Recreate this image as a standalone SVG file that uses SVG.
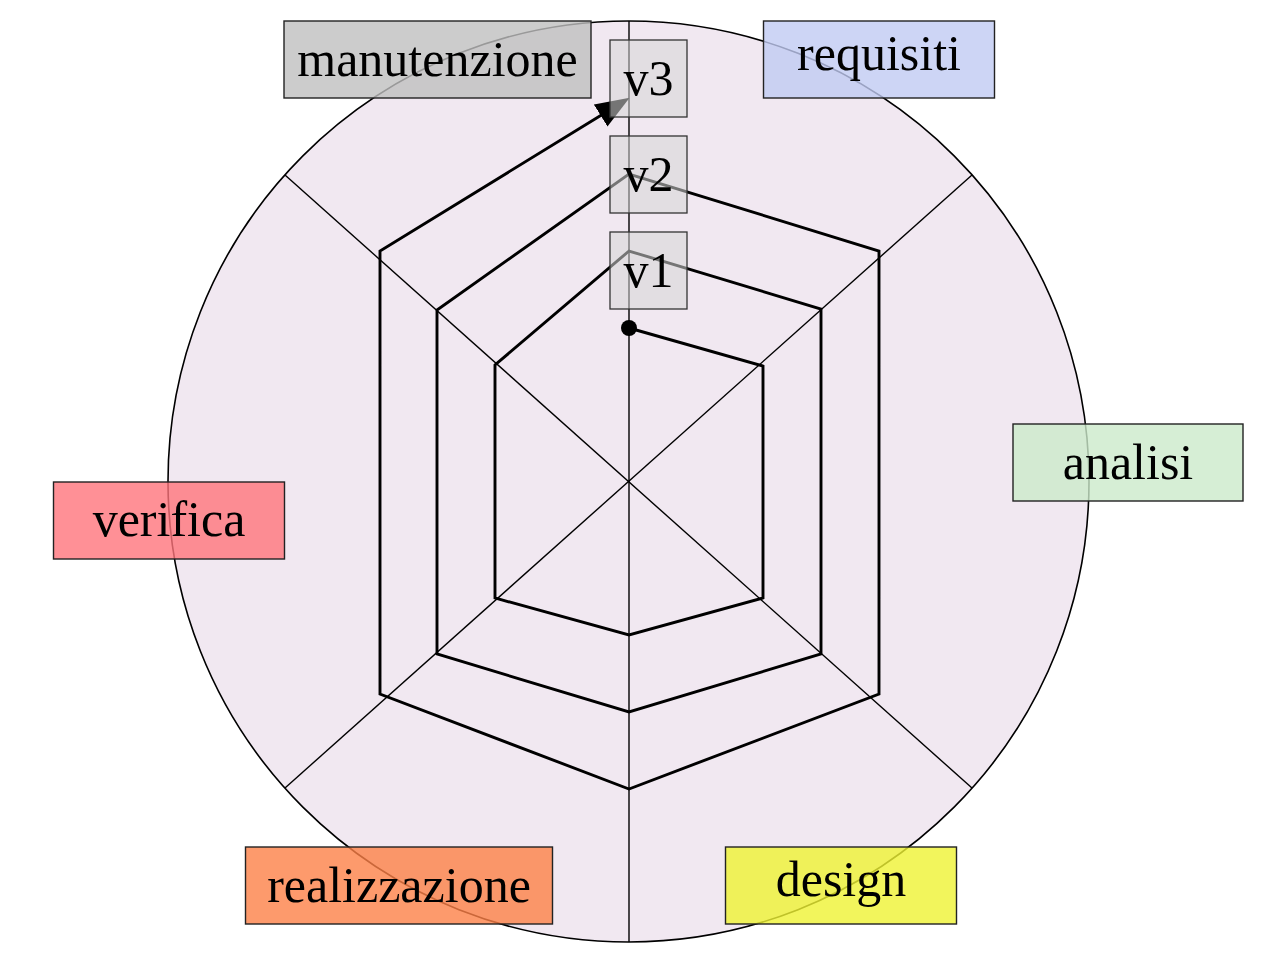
<svg xmlns="http://www.w3.org/2000/svg" width="1282" height="958" viewBox="0 0 1282 958">
<style>
  text { font-family: "Liberation Serif", "Times New Roman", serif; font-size: 50px; fill: #000; text-anchor: middle; }
  .thin { stroke: #000; stroke-width: 1.4; fill: none; }
  .spiral { stroke: #000; stroke-width: 2.9; fill: none; stroke-linejoin: miter; }
  .lab rect { stroke: #222; stroke-width: 1.4; fill-opacity: 0.8; }
  .ver rect { fill: #d6d6d6; fill-opacity: 0.55; stroke: #333; stroke-width: 1.3; }
</style>
<defs>
  <marker id="arr" markerUnits="userSpaceOnUse" viewBox="0 0 34 26" markerWidth="34" markerHeight="26" refX="1" refY="13" orient="auto">
    <path d="M0,0 L34,13 L0,26 z" fill="#000"/>
  </marker>
</defs>
<rect width="1282" height="958" fill="#fff"/>
<g id="background">
  <circle cx="628.5" cy="481.5" r="460.5" fill="#f1e8f1" stroke="#000" stroke-width="1.6"/>
  <line class="thin" x1="629" y1="21" x2="629" y2="942"/>
  <line class="thin" x1="285" y1="175" x2="972" y2="788"/>
  <line class="thin" x1="972" y1="175" x2="285" y2="788"/>
</g>
<g id="connectors">
  <path class="spiral" marker-end="url(#arr)" d="M629,328 L763,366 L763,598 L629,635 L495,598 L495,365 L629,251 L821,309 L821,654 L629,712 L437,654 L437,310 L629,174 L879,251 L879,694 L629,789 L380,694 L380,251 L601.5,115"/>
  <circle cx="629" cy="328" r="8" fill="#000"/>
</g>
<g id="v1" class="ver"><rect x="610" y="232" width="77" height="77"/><text x="648.5" y="287">v1</text></g>
<g id="v2" class="ver"><rect x="610" y="136" width="77" height="77"/><text x="648.5" y="191">v2</text></g>
<g id="v3" class="ver"><rect x="610" y="40" width="77" height="77"/><text x="648.5" y="95">v3</text></g>
<g id="manutenzione" class="lab"><rect x="284" y="21" width="307" height="77" fill="#bfbfbf"/><text x="437.5" y="76">manutenzione</text></g>
<g id="requisiti" class="lab"><rect x="763.5" y="21" width="231" height="77" fill="#c1cbf3"/><text x="879" y="70">requisiti</text></g>
<g id="analisi" class="lab"><rect x="1013" y="424" width="230" height="77" fill="#cceacb"/><text x="1128" y="478.5">analisi</text></g>
<g id="verifica" class="lab"><rect x="53.5" y="482" width="231" height="77" fill="#ff747c"/><text x="169" y="536">verifica</text></g>
<g id="realizzazione" class="lab"><rect x="245.5" y="847" width="307" height="77" fill="#fd8147"/><text x="399" y="902">realizzazione</text></g>
<g id="design" class="lab"><rect x="725.5" y="847" width="231" height="77" fill="#eff333"/><text x="841" y="896">design</text></g>
</svg>
